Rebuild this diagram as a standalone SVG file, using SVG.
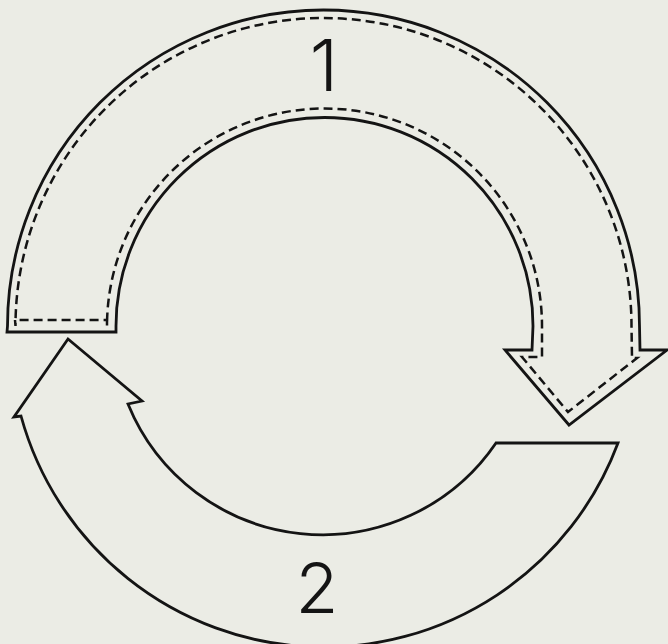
<svg xmlns="http://www.w3.org/2000/svg" width="668" height="644" viewBox="0 0 668 644">
<style>
.bg{fill:#ebece5}
.outline{fill:none;stroke:#141414;stroke-width:2.8;stroke-linejoin:miter}
.dash{fill:none;stroke:#141414;stroke-width:2.5;stroke-dasharray:9 5}
.lbl{font-family:Inter,"Liberation Sans",Arial,sans-serif;font-weight:300;fill:#141414;text-anchor:middle}
</style>
<rect class="bg" x="0" y="0" width="668" height="644"/>
<g id="arrow1">
<path class="outline" d="M 7 332 L 7.5 326 A 316 316 0 0 1 639.5 326 L 640 350 L 667 350 L 569 425 L 505 350 L 532 350 L 533 326 A 208.5 208.5 0 0 0 116 326 L 116 332 Z"/>
<path class="dash" d="M 15 320 L 15.5 326 A 308 308 0 0 1 631.5 326 L 632 358 L 637 358 L 568 412 L 522 357 L 542 357 L 542 326 A 217.5 217.5 0 0 0 107 326 L 107 320 Z"/>
<text class="lbl" x="324" y="91" font-size="72">1</text>
</g>
<g id="arrow2">
<path class="outline" d="M 21 416 A 314 314 0 0 0 618 443 L 496 443 A 210 210 0 0 1 128 404 L 142 401 L 68 339 L 14 417 Z"/>
<text class="lbl" x="317" y="613" font-size="70">2</text>
</g>
<g id="connectors"/>
</svg>
